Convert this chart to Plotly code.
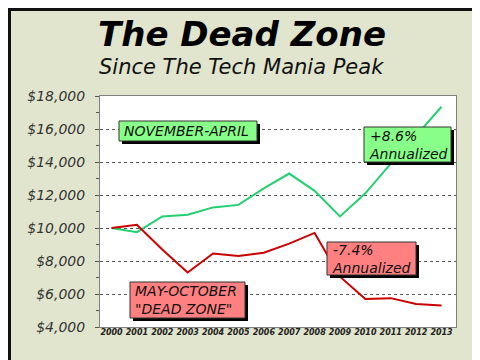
import plotly.graph_objects as go

years = list(range(2000, 2014))
nov_apr = [10000, 9750, 10700, 10800, 11250, 11400, 12400, 13300, 12250, 10700, 12100, 13900, 15600, 17350]
may_oct = [10000, 10200, 8700, 7300, 8450, 8300, 8500, 9050, 9700, 7050, 5700, 5750, 5400, 5300]
y_ticks = [4000, 6000, 8000, 10000, 12000, 14000, 16000, 18000]
y_labels = ["$4,000", "$6,000", "$8,000", "$10,000", "$12,000", "$14,000", "$16,000", "$18,000"]

W, H = 480, 360
L, R, T, B = 92, 448, 88, 319
FONT = "DejaVu Sans"
BG = "#E1E5CD"

def px(x):
    return (x - L) / (R - L)

def py(y):
    return (B - y) / (B - T)

fig = go.Figure()
fig.add_trace(go.Scatter(x=years, y=nov_apr, mode="lines",
                         line=dict(color="#22D070", width=2), showlegend=False))
fig.add_trace(go.Scatter(x=years, y=may_oct, mode="lines",
                         line=dict(color="#CC0000", width=2), showlegend=False))

shapes = []
annotations = []

def box(x0, y0, x1, y1, fill, text, size=14):
    shapes.append(dict(type="rect", xref="paper", yref="paper",
                       x0=px(x0 + 3), x1=px(x1 + 3), y0=py(y1 + 3), y1=py(y0 + 3),
                       fillcolor="black", line=dict(width=0), layer="above"))
    shapes.append(dict(type="rect", xref="paper", yref="paper",
                       x0=px(x0), x1=px(x1), y0=py(y1), y1=py(y0),
                       fillcolor=fill, line=dict(color="#333333", width=1), layer="above"))
    annotations.append(dict(xref="paper", yref="paper", x=px(x0 + 3), y=py((y0 + y1) / 2),
                            xanchor="left", yanchor="middle", align="left", showarrow=False,
                            text=text, font=dict(family=FONT, size=size, color="#111111", style="italic")))

box(111, 113, 249, 133, "#88FF88", "NOVEMBER-APRIL")
box(356, 119, 443, 154, "#88FF88", "+8.6%<br>Annualized")
box(319, 234, 408, 267, "#FF8080", "-7.4%<br>Annualized")
box(122, 274, 237, 310, "#FF8080", "MAY-OCTOBER<br>\"DEAD ZONE\"")

# frame around the whole image
for (x0, y0, x1, y1) in [(0, 0, 3, H), (0, 0, W, 3), (475, 0, W, H), (0, 357, W, H)]:
    shapes.append(dict(type="rect", xref="paper", yref="paper",
                       x0=px(x0), x1=px(x1), y0=py(y1), y1=py(y0),
                       fillcolor="#111111", line=dict(width=0), layer="above"))

annotations.append(dict(xref="paper", yref="paper", x=px(234), y=py(26), xanchor="center", yanchor="middle",
                        showarrow=False, text="The Dead Zone",
                        font=dict(family=FONT, size=34, color="black", weight="bold", style="italic")))
annotations.append(dict(xref="paper", yref="paper", x=px(233), y=py(59), xanchor="center", yanchor="middle",
                        showarrow=False, text="Since The Tech Mania Peak",
                        font=dict(family=FONT, size=21, color="#111111", style="italic")))

fig.update_layout(
    width=W, height=H,
    margin=dict(l=L, r=W - R, t=T, b=H - B, pad=0),
    paper_bgcolor=BG, plot_bgcolor="white",
    shapes=shapes, annotations=annotations,
    xaxis=dict(range=[1999.547, 2013.571], tickvals=years, ticktext=[str(y) for y in years],
               tickangle=0, showgrid=False, zeroline=False, showline=True, mirror=True,
               linecolor="#808080", linewidth=1, ticks="", ticklabelstandoff=-3,
               tickfont=dict(family=FONT, size=8, color="#222222", weight="bold", style="italic")),
    yaxis=dict(range=[4000, 18000], tickvals=y_ticks, ticktext=y_labels,
               showgrid=True, gridcolor="#555555", griddash="dot", gridwidth=1,
               zeroline=False, showline=True, mirror=True, linecolor="#808080", linewidth=1,
               ticks="outside", ticklen=4, tickcolor="#555555", ticklabelstandoff=7,
               minor=dict(dtick=1000, ticks="outside", ticklen=3, tickcolor="#555555", showgrid=False),
               tickfont=dict(family=FONT, size=14, color="#333333", style="italic")),
)

fig.write_html("out.html")
